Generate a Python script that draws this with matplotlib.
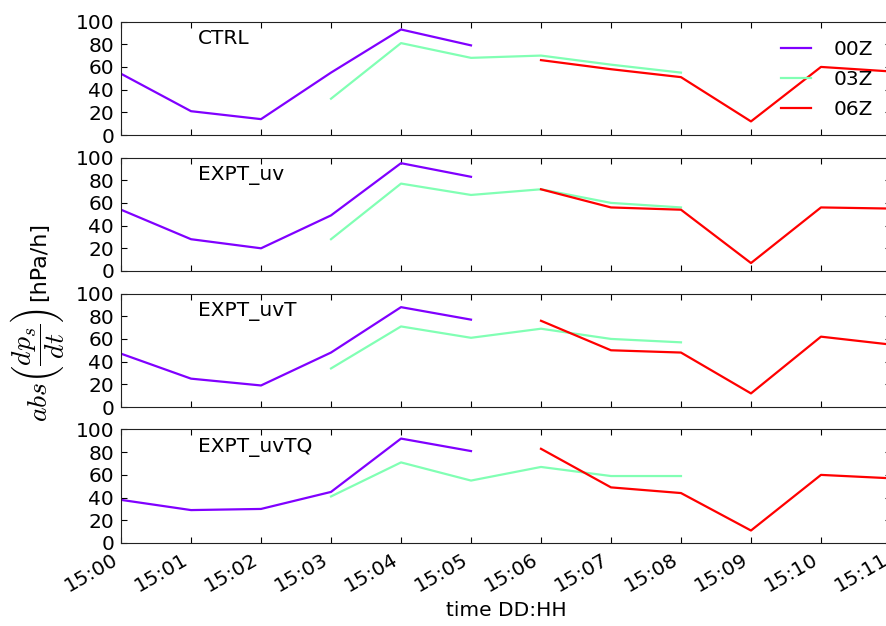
import numpy as np
import matplotlib
matplotlib.use("Agg")
import matplotlib.pyplot as plt

# hours of day 15, forecasts started 00Z, 03Z and 06Z
hours = np.arange(0, 12)
tick_labels = ["15:%02d" % h for h in hours]
runs = ["00Z", "03Z", "06Z"]
run_start = [0, 3, 6]
experiments = ["CTRL", "EXPT_uv", "EXPT_uvT", "EXPT_uvTQ"]

ctrl_00z = [54, 21, 14, 55, 93, 79]
ctrl_03z = [32, 81, 68, 70, 62, 55]
ctrl_06z = [66, 58, 51, 12, 60, 56]

uv_00z = [54, 28, 20, 49, 95, 83]
uv_03z = [28, 77, 67, 72, 60, 56]
uv_06z = [72, 56, 54, 7, 56, 55]

uvt_00z = [47, 25, 19, 48, 88, 77]
uvt_03z = [34, 71, 61, 69, 60, 57]
uvt_06z = [76, 50, 48, 12, 62, 55]

uvtq_00z = [38, 29, 30, 45, 92, 81]
uvtq_03z = [41, 71, 55, 67, 59, 59]
uvtq_06z = [83, 49, 44, 11, 60, 57]

data = [
    [ctrl_00z, ctrl_03z, ctrl_06z],
    [uv_00z, uv_03z, uv_06z],
    [uvt_00z, uvt_03z, uvt_06z],
    [uvtq_00z, uvtq_03z, uvtq_06z],
]

plt.rcParams.update({
    "font.size": 14.5,
    "mathtext.fontset": "cm",
    "xtick.direction": "in",
    "ytick.direction": "in",
    "xtick.top": True,
    "ytick.right": True,
    "xtick.major.size": 4,
    "ytick.major.size": 4,
    "xtick.major.pad": 5,
    "ytick.major.pad": 5,
    "axes.edgecolor": "#222222",
})

colors = plt.cm.rainbow(np.linspace(0, 1, len(runs)))

fig = plt.figure(figsize=(8.86, 6.26), dpi=100)
# the original figure was wider: the right spine falls just past the picture
left, width, height = 0.1366, 0.869, 0.1813
bottoms = [0.7843, 0.5671, 0.3498, 0.1326]

for i, (name, series) in enumerate(zip(experiments, data)):
    ax = fig.add_axes([left, bottoms[i], width, height])
    for run, start, vals, c in zip(runs, run_start, series, colors):
        ax.plot(hours[start:start + len(vals)], vals, color=c, lw=1.6, label=run)
    ax.set_xlim(0, 11)
    ax.set_ylim(0, 100)
    ax.set_yticks(np.arange(0, 101, 20))
    ax.set_xticks(hours)
    ax.text(0.1, 0.8, name, transform=ax.transAxes)
    if i == 0:
        ax.legend(loc="upper right", frameon=False, handlelength=1.5,
                  handletextpad=1.1, labelspacing=0.55)
    if i == len(experiments) - 1:
        ax.set_xticklabels(tick_labels, rotation=30, ha="right")
        ax.set_xlabel("time DD:HH")
    else:
        ax.set_xticklabels([])

# y label: large math part plus units
fig.text(0.042, 0.416, r"$abs\left(\dfrac{dp_s}{dt}\right)$",
         rotation=90, ha="center", va="center", fontsize=20)
fig.text(0.044, 0.582, "[hPa/h]", rotation=90, ha="center", va="center",
         fontsize=16)

fig.savefig("out.png", dpi=100)
